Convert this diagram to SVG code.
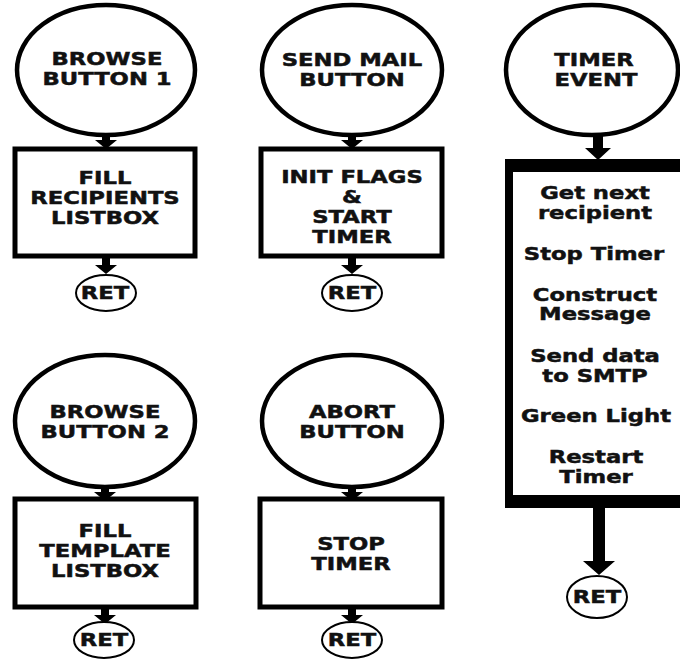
<svg xmlns="http://www.w3.org/2000/svg" xmlns:xlink="http://www.w3.org/1999/xlink" width="680" height="659" viewBox="0 0 680 659">
<style>
.ev{fill:#fff;stroke:#000;stroke-width:4.5}
.bx{fill:#fff;stroke:#000;stroke-width:5}
.ret{fill:#fff;stroke:#000;stroke-width:2}
.t{font-family:"DejaVu Sans","Liberation Sans",sans-serif;font-weight:bold;font-size:18px;text-anchor:middle;fill:#111;stroke:#111;stroke-width:0.5}
.ar{fill:#000}
</style>
<defs>
<path id="arrA" d="M-4,0 H4 V6 H11 L0,15 L-11,6 H-4 Z"/>
<path id="arrB" d="M-4,0 H4 V9 H11 L0,18 L-11,9 H-4 Z"/>
<path id="arrT" d="M-5,0 H5 V13 H13 L0,25 L-13,13 H-5 Z"/>
<path id="arrL" d="M-6,0 H6 V54 H16 L0,68 L-16,54 H-6 Z"/>
</defs>
<rect width="680" height="659" fill="#fff"/>

<g id="connectors" class="ar">
<use xlink:href="#arrA" x="106" y="134"/>
<use xlink:href="#arrB" x="106" y="256"/>
<use xlink:href="#arrA" x="352" y="134"/>
<use xlink:href="#arrB" x="352" y="256"/>
<use xlink:href="#arrT" x="598" y="135"/>
<use xlink:href="#arrL" x="599" y="507"/>
<use xlink:href="#arrA" x="105" y="486"/>
<use xlink:href="#arrB" x="105" y="606"/>
<use xlink:href="#arrA" x="352" y="486"/>
<use xlink:href="#arrB" x="352" y="606"/>
</g>

<g id="browse1">
<ellipse class="ev" cx="106" cy="70" rx="89" ry="65"/>
<text class="t" transform="translate(107 65) scale(1.26 1)">BROWSE</text>
<text class="t" transform="translate(107 85) scale(1.26 1)">BUTTON 1</text>
</g>
<g id="fillRecipients">
<rect class="bx" x="15" y="149" width="180" height="107"/>
<text class="t" transform="translate(105 184) scale(1.26 1)">FILL</text>
<text class="t" transform="translate(105 204) scale(1.26 1)">RECIPIENTS</text>
<text class="t" transform="translate(105 224) scale(1.26 1)">LISTBOX</text>
</g>
<g id="ret1">
<ellipse class="ret" cx="106" cy="293" rx="30" ry="18"/>
<text class="t" transform="translate(105 299) scale(1.26 1)">RET</text>
</g>

<g id="sendMail">
<ellipse class="ev" cx="352" cy="70" rx="90" ry="65"/>
<text class="t" transform="translate(352 66) scale(1.26 1)">SEND MAIL</text>
<text class="t" transform="translate(352 86) scale(1.26 1)">BUTTON</text>
</g>
<g id="initFlags">
<rect class="bx" x="261" y="149" width="181" height="107"/>
<text class="t" transform="translate(352 183) scale(1.26 1)">INIT FLAGS</text>
<text class="t" transform="translate(352 203) scale(1.26 1)">&amp;</text>
<text class="t" transform="translate(352 223) scale(1.26 1)">START</text>
<text class="t" transform="translate(352 243) scale(1.26 1)">TIMER</text>
</g>
<g id="ret2">
<ellipse class="ret" cx="352" cy="293" rx="30" ry="18"/>
<text class="t" transform="translate(352 299) scale(1.26 1)">RET</text>
</g>

<g id="timerEvent">
<ellipse class="ev" cx="592" cy="70" rx="86" ry="65"/>
<text class="t" transform="translate(594 66) scale(1.26 1)">TIMER</text>
<text class="t" transform="translate(596 86) scale(1.26 1)">EVENT</text>
</g>
<g id="timerBox">
<rect x="505" y="159" width="200" height="349" fill="#000"/>
<rect x="513" y="172" width="184" height="323" fill="#fff"/>
<text class="t" transform="translate(595 199) scale(1.26 1)">Get next</text>
<text class="t" transform="translate(595 219) scale(1.26 1)">recipient</text>
<text class="t" transform="translate(594 260) scale(1.26 1)">Stop Timer</text>
<text class="t" transform="translate(595 301) scale(1.26 1)">Construct</text>
<text class="t" transform="translate(595 320) scale(1.26 1)">Message</text>
<text class="t" transform="translate(595 362) scale(1.26 1)">Send data</text>
<text class="t" transform="translate(595 382) scale(1.26 1)">to SMTP</text>
<text class="t" transform="translate(596 422) scale(1.26 1)">Green Light</text>
<text class="t" transform="translate(596 463) scale(1.26 1)">Restart</text>
<text class="t" transform="translate(596 483) scale(1.26 1)">Timer</text>
</g>
<g id="ret3">
<ellipse class="ret" cx="597" cy="597" rx="30" ry="21"/>
<text class="t" transform="translate(597 603) scale(1.26 1)">RET</text>
</g>

<g id="browse2">
<ellipse class="ev" cx="105" cy="421" rx="90" ry="66"/>
<text class="t" transform="translate(105 418) scale(1.26 1)">BROWSE</text>
<text class="t" transform="translate(105 438) scale(1.26 1)">BUTTON 2</text>
</g>
<g id="fillTemplate">
<rect class="bx" x="15" y="499" width="181" height="108"/>
<text class="t" transform="translate(105 537) scale(1.26 1)">FILL</text>
<text class="t" transform="translate(105 557) scale(1.26 1)">TEMPLATE</text>
<text class="t" transform="translate(105 577) scale(1.26 1)">LISTBOX</text>
</g>
<g id="ret4">
<ellipse class="ret" cx="104" cy="640" rx="30" ry="18"/>
<text class="t" transform="translate(104 646) scale(1.26 1)">RET</text>
</g>

<g id="abort">
<ellipse class="ev" cx="352" cy="421" rx="90" ry="66"/>
<text class="t" transform="translate(352 418) scale(1.26 1)">ABORT</text>
<text class="t" transform="translate(352 438) scale(1.26 1)">BUTTON</text>
</g>
<g id="stopTimer">
<rect class="bx" x="260" y="499" width="182" height="108"/>
<text class="t" transform="translate(351 550) scale(1.26 1)">STOP</text>
<text class="t" transform="translate(351 570) scale(1.26 1)">TIMER</text>
</g>
<g id="ret5">
<ellipse class="ret" cx="352" cy="640" rx="30" ry="18"/>
<text class="t" transform="translate(352 646) scale(1.26 1)">RET</text>
</g>
</svg>
